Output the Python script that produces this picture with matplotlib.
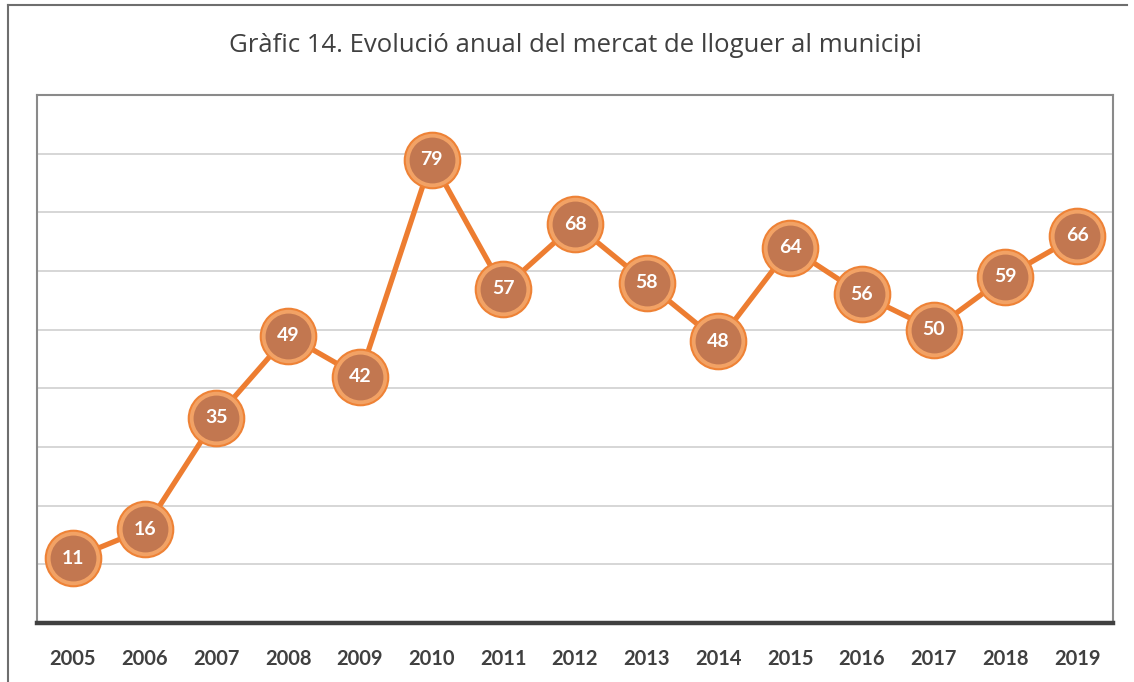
import matplotlib.pyplot as plt
from matplotlib.lines import Line2D

years = ['2005', '2006', '2007', '2008', '2009', '2010', '2011', '2012',
         '2013', '2014', '2015', '2016', '2017', '2018', '2019']
values = [11, 16, 35, 49, 42, 79, 57, 68, 58, 48, 64, 56, 50, 59, 66]

W, H = 1134, 682
fig = plt.figure(figsize=(W / 100, H / 100), dpi=100)

# outer chart border (left and top only visible)
fig.add_artist(Line2D([8 / W, 8 / W], [0, 1 - 5 / H], color='#6e6e6e', lw=1.5))
fig.add_artist(Line2D([8 / W, 1127 / W], [1 - 5 / H, 1 - 5 / H], color='#6e6e6e', lw=1.5))

ax = fig.add_axes([37 / W, 1 - 623 / H, (1113 - 37) / W, (623 - 95) / H])

x = list(range(len(years)))
ax.plot(x, values, color='#ED7D31', lw=3.8, zorder=3)
ax.plot(x, values, ls='none', marker='o', markersize=40, markerfacecolor='#F2A265',
        markeredgecolor='#EE8236', markeredgewidth=1.5, zorder=4)
ax.plot(x, values, ls='none', marker='o', markersize=33, markerfacecolor='#C27750',
        markeredgecolor='none', zorder=5)
for xi, v in zip(x, values):
    ax.text(xi, v, str(v), ha='center', va='center', color='white',
            fontsize=14, fontweight='bold', family='Lato', zorder=6)

ax.set_xlim(-0.5, len(years) - 0.5)
ax.set_ylim(0, 90)
ax.set_yticks(range(0, 91, 10))
ax.set_yticklabels([])
ax.tick_params(axis='y', length=0)
ax.grid(axis='y', color='#d0d0d0', lw=1.2)
ax.set_axisbelow(True)

ax.set_xticks(x)
ax.set_xticklabels(years, fontsize=14.5, fontweight='bold', color='#404040', family='Lato')
ax.tick_params(axis='x', length=0, pad=19)

for s in ['left', 'top', 'right']:
    ax.spines[s].set_color('#8a8a8a')
    ax.spines[s].set_linewidth(1.5)
ax.spines['bottom'].set_color('#404040')
ax.spines['bottom'].set_linewidth(3.2)

fig.text(575 / W, 1 - 45 / H, 'Gràfic 14. Evolució anual del mercat de lloguer al municipi',
         ha='center', va='center', fontsize=18.5, color='#404040', family='Open Sans')

fig.savefig('out.png', dpi=100)
